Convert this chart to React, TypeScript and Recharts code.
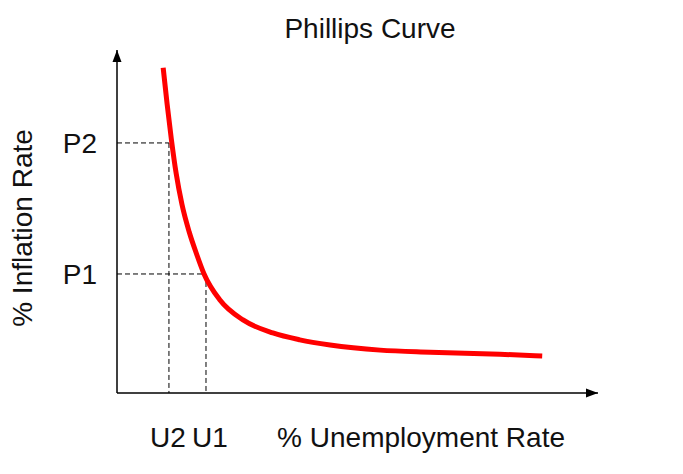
import { LineChart, Line, XAxis, YAxis, ReferenceLine, ReferenceDot, Customized } from "recharts";

// curve (0-100 scale on both axes)
const unemployment = [9.6, 10.4, 11.3, 12.3, 13.5, 15.0, 16.6, 18.1, 21.4, 26.2, 32.4, 38.0, 44.3, 54.7, 65.1, 79.6, 88.4];
const inflation = [94.8, 84.5, 74.0, 64.0, 55.0, 47.0, 40.3, 34.7, 27.1, 21.3, 17.5, 15.5, 14.0, 12.5, 11.9, 11.3, 10.8];

const uTicks = [10.8, 18.5];
const uLabels = ["U2", "U1"];
const pTicks = [34.7, 72.9];
const pLabels = ["P1", "P2"];

const FONT = "'Liberation Sans', Arial, sans-serif";
const INK = "#111";
const FS = 28;

const data = unemployment.map((u, i) => ({ u, inflation: inflation[i] }));

function ArrowRight(props: any) {
    const { cx, cy } = props;
    return <path d={`M${cx},${cy} L${cx - 12},${cy - 4.5} L${cx - 12},${cy + 4.5} Z`} fill="#000" />;
}

function ArrowUp(props: any) {
    const { cx, cy } = props;
    return <path d={`M${cx},${cy} L${cx - 4.5},${cy + 12} L${cx + 4.5},${cy + 12} Z`} fill="#000" />;
}

// U2 and U1 sit as one "U2 U1" string in the original, so nudge them apart a bit
function UTick(props: any) {
    const { x, y, payload, index } = props;
    const nudge = index === 1 ? 4 : -1;
    return (
        <text x={x + nudge} y={y} dy="0.71em" textAnchor="middle" fontSize={FS} fill={INK} fontFamily={FONT}>
            {uLabels[uTicks.indexOf(payload.value)]}
        </text>
    );
}

export default function App() {
    return (
        <div style={{ position: "absolute", left: 0, top: 0, background: "#fff" }}>
            <LineChart width={683} height={474} data={data} margin={{ top: 50, right: 85, bottom: 0, left: 0 }}>
                <XAxis
                    dataKey="u"
                    type="number"
                    domain={[0, 100]}
                    ticks={uTicks}
                    interval={0}
                    height={81}
                    tickLine={false}
                    tickMargin={28}
                    axisLine={{ stroke: "#000", strokeWidth: 1.5 }}
                    tick={UTick}
                    label={{
                        content: ({ viewBox }: any) => (
                            <text x={viewBox.x + viewBox.width - 33} y={viewBox.y + 54} textAnchor="end"
                                fontSize={FS} fill={INK} fontFamily={FONT}>
                                % Unemployment Rate
                            </text>
                        ),
                    }}
                />
                <YAxis
                    type="number"
                    domain={[0, 100]}
                    ticks={pTicks}
                    interval={0}
                    tickFormatter={(v) => pLabels[pTicks.indexOf(v)]}
                    width={117}
                    tickLine={false}
                    tickMargin={14}
                    axisLine={{ stroke: "#000", strokeWidth: 1.5 }}
                    tick={{ fontSize: FS, fill: INK, fontFamily: FONT }}
                    label={{
                        content: ({ viewBox }: any) => {
                            const cx = 32;
                            const cy = viewBox.y + 178;
                            return (
                                <text x={cx} y={cy} transform={`rotate(-90 ${cx} ${cy})`} textAnchor="middle"
                                    fontSize={FS} fill={INK} fontFamily={FONT}>
                                    % Inflation Rate
                                </text>
                            );
                        },
                    }}
                />
                <ReferenceLine segment={[{ x: 0, y: pTicks[1] }, { x: uTicks[0], y: pTicks[1] }]} stroke="#000" strokeDasharray="5 3" />
                <ReferenceLine segment={[{ x: uTicks[0], y: pTicks[1] }, { x: uTicks[0], y: 0 }]} stroke="#000" strokeDasharray="5 3" />
                <ReferenceLine segment={[{ x: 0, y: pTicks[0] }, { x: uTicks[1], y: pTicks[0] }]} stroke="#000" strokeDasharray="5 3" />
                <ReferenceLine segment={[{ x: uTicks[1], y: pTicks[0] }, { x: uTicks[1], y: 0 }]} stroke="#000" strokeDasharray="5 3" />
                <ReferenceDot x={100} y={0} shape={ArrowRight} />
                <ReferenceDot x={0} y={100} shape={ArrowUp} />
                <Line
                    dataKey="inflation"
                    type="monotone"
                    stroke="#ff0000"
                    strokeWidth={5}
                    dot={false}
                    activeDot={false}
                    isAnimationActive={false}
                />
                <Customized
                    component={() => (
                        <text x={370} y={38} textAnchor="middle" fontSize={FS} fill={INK} fontFamily={FONT}>
                            Phillips Curve
                        </text>
                    )}
                />
            </LineChart>
        </div>
    );
}
